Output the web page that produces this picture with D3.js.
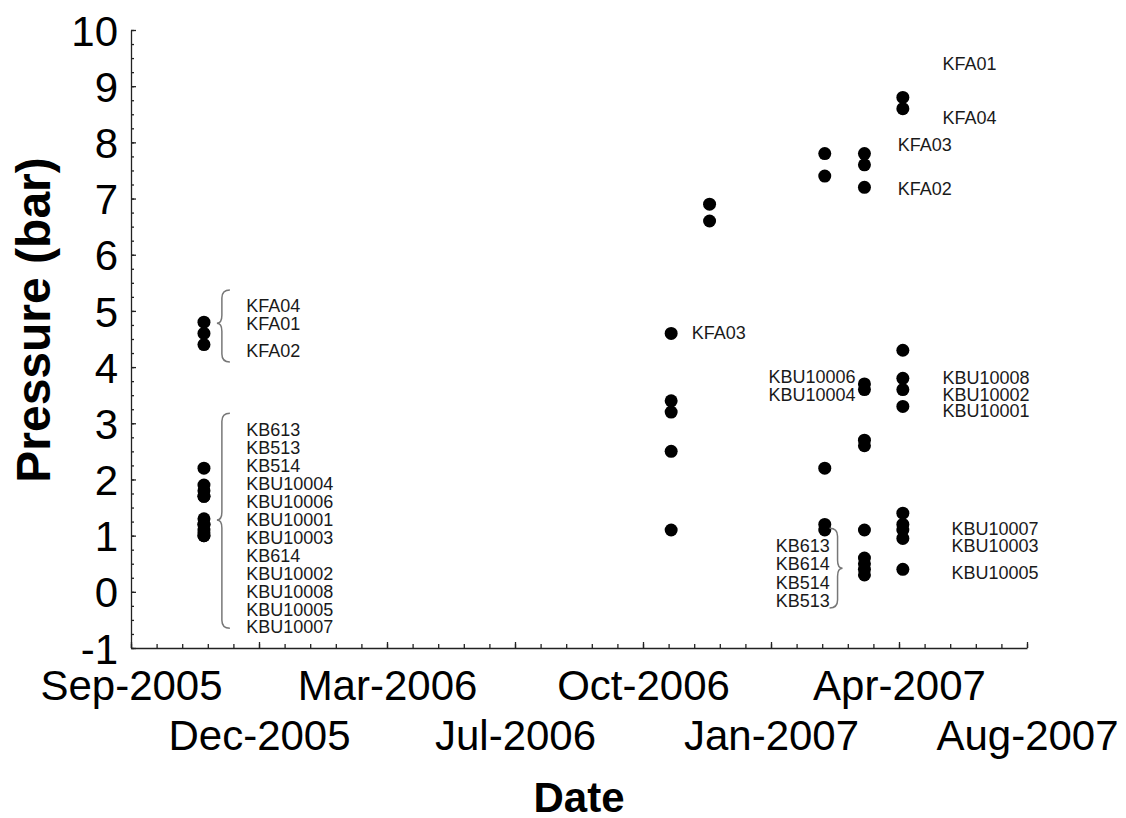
<!DOCTYPE html>
<html>
<head>
<meta charset="utf-8">
<script src="https://cdn.jsdelivr.net/npm/d3@7"></script>
<style>
  body { margin: 0; background: #fff; }
  text { font-family: "Liberation Sans", Arial, sans-serif; }
</style>
</head>
<body>
<div id="chart"></div>
<script>
// sampling campaigns (one column of dots per date)
const sampleDates = ["2005-11-01", "2006-11-01", "2006-12-01", "2007-03-01", "2007-04-01", "2007-05-01"];
const pressures = [
  [4.8, 4.6, 4.4, 2.2, 1.9, 1.8, 1.7, 1.7, 1.3, 1.2, 1.2, 1.1, 1.05, 1.0, 1.0],
  [4.6, 3.4, 3.2, 2.5, 1.1],
  [6.9, 6.6],
  [7.8, 7.4, 2.2, 1.2, 1.1],
  [7.8, 7.6, 7.2, 3.7, 3.6, 2.7, 2.6, 1.1, 0.6, 0.5, 0.4, 0.3],
  [8.8, 8.6, 4.3, 3.8, 3.6, 3.3, 1.4, 1.2, 1.1, 0.95, 0.4]
];

// borehole labels: text, date, pressure, anchor
const labels = [
  ["KFA04", "2005-12-04", 5.10, "start"],
  ["KFA01", "2005-12-04", 4.78, "start"],
  ["KFA02", "2005-12-04", 4.30, "start"],
  ["KB613", "2005-12-04", 2.88, "start"],
  ["KB513", "2005-12-04", 2.56, "start"],
  ["KB514", "2005-12-04", 2.24, "start"],
  ["KBU10004", "2005-12-04", 1.92, "start"],
  ["KBU10006", "2005-12-04", 1.60, "start"],
  ["KBU10001", "2005-12-04", 1.29, "start"],
  ["KBU10003", "2005-12-04", 0.97, "start"],
  ["KB614", "2005-12-04", 0.65, "start"],
  ["KBU10002", "2005-12-04", 0.33, "start"],
  ["KBU10008", "2005-12-04", 0.01, "start"],
  ["KBU10005", "2005-12-04", -0.31, "start"],
  ["KBU10007", "2005-12-04", -0.62, "start"],
  ["KFA03", "2006-11-17", 4.62, "start"],
  ["KFA01", "2007-06-01", 9.41, "start"],
  ["KFA04", "2007-06-01", 8.45, "start"],
  ["KFA03", "2007-04-27", 7.97, "start"],
  ["KFA02", "2007-04-27", 7.17, "start"],
  ["KBU10006", "2007-03-25", 3.83, "end"],
  ["KBU10004", "2007-03-25", 3.51, "end"],
  ["KBU10008", "2007-06-01", 3.81, "start"],
  ["KBU10002", "2007-06-01", 3.51, "start"],
  ["KBU10001", "2007-06-01", 3.22, "start"],
  ["KBU10007", "2007-06-08", 1.13, "start"],
  ["KBU10003", "2007-06-08", 0.83, "start"],
  ["KBU10005", "2007-06-08", 0.35, "start"],
  ["KB613", "2007-03-05", 0.82, "end"],
  ["KB614", "2007-03-05", 0.51, "end"],
  ["KB514", "2007-03-05", 0.16, "end"],
  ["KB513", "2007-03-05", -0.15, "end"]
];

// curly braces: date of spine, top, bottom, tip (pressure), direction of tip
const braces = [
  ["2005-11-15", 5.37, 4.09, 4.78, -1],
  ["2005-11-15", 3.18, -0.65, 1.28, -1],
  ["2007-03-11", 1.13, -0.29, 0.42, 1]
];

const xTickDates = ["2005-09-05", "2005-12-14", "2006-03-24", "2006-07-02", "2006-10-10", "2007-01-18", "2007-04-28", "2007-08-06"];
const yTicks = [-1, 0, 1, 2, 3, 4, 5, 6, 7, 8, 9, 10];

const width = 1126, height = 818;
const parse = d3.utcParse("%Y-%m-%d");
const fmt = d3.utcFormat("%b-%Y");

const svg = d3.select("#chart").append("svg")
  .attr("width", width)
  .attr("height", height)
  .style("display", "block");

const x = d3.scaleUtc()
  .domain([parse(xTickDates[0]), parse(xTickDates[xTickDates.length - 1])])
  .range([131, 1027]);

const y = d3.scaleLinear()
  .domain([-1, 10])
  .range([648, 30]);

const majorX = xTickDates.map(parse);
const minorX = d3.range(0, 701, 20).map(d => d3.utcDay.offset(majorX[0], d));
const minorY = d3.range(-1, 10.001, 0.25);

// minor ticks first
svg.append("g")
  .attr("transform", `translate(0,${y(-1)})`)
  .call(d3.axisBottom(x).tickValues(minorX).tickSize(-4).tickSizeOuter(0).tickFormat(""))
  .call(g => g.select(".domain").remove());

svg.append("g")
  .attr("transform", `translate(${x.range()[0]},0)`)
  .call(d3.axisLeft(y).tickValues(minorY).tickSize(-3).tickSizeOuter(0).tickFormat(""))
  .call(g => g.select(".domain").remove());

// x axis, labels staggered over two rows
svg.append("g")
  .attr("transform", `translate(0,${y(-1)})`)
  .call(d3.axisBottom(x).tickValues(majorX).tickSize(-6).tickSizeOuter(0).tickFormat(fmt))
  .call(g => g.selectAll("text")
    .attr("y", (d, i) => i % 2 ? 102 : 52)
    .attr("dy", 0)
    .attr("font-size", 42)
    .attr("font-family", "'Liberation Sans', Arial, sans-serif")
    .attr("fill", "#000"));

// y axis (plain hyphen for the negative tick, as in the original)
svg.append("g")
  .attr("transform", `translate(${x.range()[0]},0)`)
  .call(d3.axisLeft(y).tickValues(yTicks).tickSize(-5).tickSizeOuter(0).tickPadding(13)
    .tickFormat(d => String(d)))
  .call(g => g.selectAll("text")
    .attr("dy", "0.36em")
    .attr("font-size", 42)
    .attr("font-family", "'Liberation Sans', Arial, sans-serif")
    .attr("fill", "#000"));

svg.selectAll(".domain, .tick line")
  .attr("stroke", "#222")
  .attr("stroke-width", 1.3);

// axis titles
svg.append("text")
  .attr("x", (x.range()[0] + x.range()[1]) / 2)
  .attr("y", 812)
  .attr("text-anchor", "middle")
  .attr("font-size", 42)
  .attr("font-weight", "bold")
  .text("Date");

svg.append("text")
  .attr("transform", "translate(50,320) rotate(-90)")
  .attr("text-anchor", "middle")
  .attr("font-size", 48)
  .attr("font-weight", "bold")
  .text("Pressure (bar)");

// dots
const points = sampleDates.flatMap((d, i) => pressures[i].map(p => ({ date: parse(d), p })));

svg.append("g")
  .selectAll("circle")
  .data(points)
  .join("circle")
  .attr("cx", d => x(d.date))
  .attr("cy", d => y(d.p))
  .attr("r", 6.5)
  .attr("fill", "#000");

// braces
function bracePath([date, top, bottom, tip, dir]) {
  const xs = x(parse(date));
  const y0 = y(top), y1 = y(bottom), yt = y(tip);
  const we = -dir * 8, wt = dir * 5, r = 8;
  return `M${xs + we},${y0} Q${xs},${y0} ${xs},${y0 + r}`
    + ` L${xs},${yt - r} Q${xs},${yt} ${xs + wt},${yt}`
    + ` Q${xs},${yt} ${xs},${yt + r}`
    + ` L${xs},${y1 - r} Q${xs},${y1} ${xs + we},${y1}`;
}

svg.append("g")
  .selectAll("path")
  .data(braces)
  .join("path")
  .attr("d", bracePath)
  .attr("fill", "none")
  .attr("stroke", "#777")
  .attr("stroke-width", 1.5);

// labels
svg.append("g")
  .selectAll("text")
  .data(labels)
  .join("text")
  .attr("x", d => x(parse(d[1])))
  .attr("y", d => y(d[2]))
  .attr("dy", "0.36em")
  .attr("text-anchor", d => d[3])
  .attr("font-size", 18)
  .attr("fill", "#1a1a1a")
  .text(d => d[0]);
</script>
</body>
</html>
